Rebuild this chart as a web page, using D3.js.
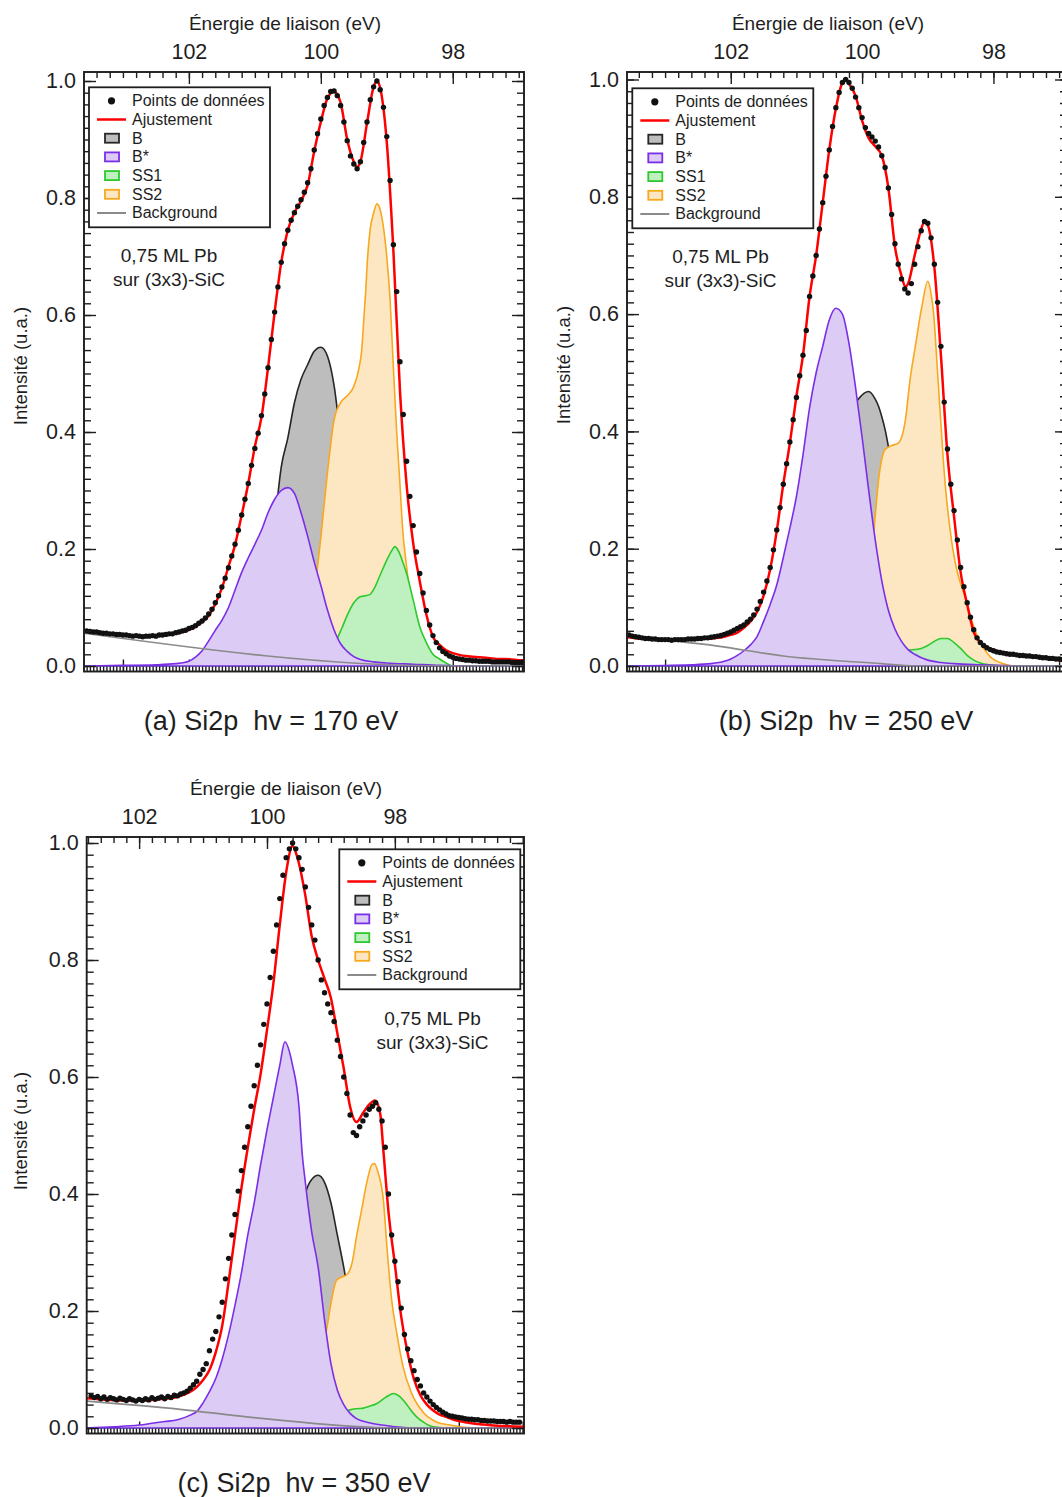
<!DOCTYPE html>
<html><head><meta charset="utf-8">
<script src="https://cdn.jsdelivr.net/npm/d3@7/dist/d3.min.js"></script>
<style>html,body{margin:0;padding:0;background:#fff;}svg{display:block;}</style>
</head><body>
<svg id="fig" width="1062" height="1497"></svg>
<script>
// ---------------- text / ticks ----------------
const xTitle = "Énergie de liaison (eV)";
const yTitle = "Intensité (u.a.)";
const energyTickLabels = [102, 100, 98];
const intensityTicks = [0, 0.2, 0.4, 0.6, 0.8, 1.0];
const legendLabels = ["Points de données", "Ajustement", "B", "B*", "SS1", "SS2", "Background"];
const noteLines = ["0,75 ML Pb", "sur (3x3)-SiC"];
const captions = ["(a) Si2p  hv = 170 eV", "(b) Si2p  hv = 250 eV", "(c) Si2p  hv = 350 eV"];
const dataStep = 0.05;

// ---------------- panel (a) hv = 170 eV ----------------
const aDataStart = 103.55;
const aData = [
.060,.059,.058,.058,.057,.056,.056,.055,.055,.054,
.054,.053,.053,.052,.051,.052,.051,.050,.051,.051,
.052,.051,.053,.053,.054,.055,.055,.057,.058,.060,
.061,.064,.066,.069,.073,.077,.082,.089,.097,.108,
.120,.135,.150,.168,.188,.208,.232,.258,.285,.312,
.343,.372,.398,.428,.465,.510,.558,.605,.648,.690,
.722,.745,.762,.775,.786,.797,.810,.826,.850,.882,
.910,.935,.958,.972,.982,.983,.975,.958,.930,.898,
.872,.858,.850,.862,.895,.930,.968,.990,1.000,.985,
.955,.905,.830,.720,.640,.520,.430,.350,.290,.240,
.195,.158,.125,.095,.070,.052,.040,.031,.025,.021,
.017,.015,.013,.012,.011,.010,.010,.009,.009,.008,
.008,.008,.008,.007,.007,.007,.007,.007,.007,.006,
.006,.006,.006];
const aFit = [[103.59,.058],[103.5,.058],[103.4,.057],[103.3,.056],[103.2,.055],[103.1,.054],[103.0,.053],[102.9,.052],[102.8,.051],[102.7,.051],[102.6,.051],[102.5,.052],[102.4,.053],[102.3,.054],[102.2,.056],[102.1,.058],[102.0,.062],[101.9,.067],[101.8,.075],[101.7,.086],[101.6,.106],[101.5,.133],[101.4,.17],[101.3,.207],[101.2,.258],[101.1,.312],[101.0,.375],[100.9,.425],[100.8,.51],[100.7,.605],[100.6,.69],[100.5,.745],[100.4,.775],[100.3,.795],[100.2,.822],[100.1,.88],[100.0,.93],[99.9,.97],[99.8,.982],[99.7,.963],[99.6,.90],[99.5,.862],[99.45,.853],[99.4,.862],[99.3,.928],[99.2,.99],[99.15,1.0],[99.1,.988],[99.0,.895],[98.9,.71],[98.8,.47],[98.7,.31],[98.6,.21],[98.5,.145],[98.4,.088],[98.3,.05],[98.2,.036],[98.1,.027],[98.0,.022],[97.9,.019],[97.8,.017],[97.7,.016],[97.6,.015],[97.5,.014],[97.4,.013],[97.3,.012],[97.2,.012],[97.1,.011],[97.0,.01],[96.92,.01]];
const aBg = [[103.59,.056],[98.1,0],[96.92,0]];
const aB = [[101.4,0],[101.2,.008],[101.0,.03],[100.9,.06],[100.8,.12],[100.7,.24],[100.6,.34],[100.5,.39],[100.4,.45],[100.3,.49],[100.2,.515],[100.1,.538],[100.0,.545],[99.9,.53],[99.8,.48],[99.7,.39],[99.6,.30],[99.5,.24],[99.4,.17],[99.3,.10],[99.2,.05],[99.1,.02],[99.0,.008],[98.8,0],[96.92,0]];
const aBstar = [[103.59,0],[103.0,.001],[102.5,.002],[102.2,.004],[102.0,.008],[101.9,.015],[101.8,.026],[101.7,.043],[101.6,.061],[101.5,.078],[101.4,.10],[101.3,.13],[101.2,.16],[101.1,.185],[101.0,.208],[100.9,.232],[100.8,.262],[100.7,.285],[100.6,.30],[100.5,.305],[100.4,.295],[100.3,.262],[100.2,.222],[100.1,.178],[100.0,.138],[99.9,.096],[99.8,.062],[99.7,.038],[99.6,.025],[99.5,.016],[99.4,.011],[99.2,.007],[99.0,.005],[98.6,.003],[98.2,.001],[97.8,0],[96.92,0]];
const aSS1 = [[103.59,0],[99.9,0],[99.83,.02],[99.76,.044],[99.68,.065],[99.61,.084],[99.5,.108],[99.41,.118],[99.33,.12],[99.26,.122],[99.18,.135],[99.11,.153],[99.0,.181],[98.92,.198],[98.88,.204],[98.82,.196],[98.75,.175],[98.7,.158],[98.6,.113],[98.5,.067],[98.4,.04],[98.3,.02],[98.2,.012],[98.1,.005],[98.0,0],[96.92,0]];
const aSS2 = [[100.4,0],[100.3,.03],[100.2,.07],[100.1,.125],[100.0,.22],[99.9,.33],[99.8,.42],[99.7,.45],[99.6,.462],[99.5,.478],[99.42,.51],[99.38,.54],[99.35,.59],[99.32,.64],[99.29,.70],[99.25,.748],[99.2,.774],[99.15,.79],[99.1,.78],[99.06,.757],[99.01,.711],[98.95,.626],[98.9,.51],[98.85,.40],[98.8,.31],[98.76,.235],[98.7,.17],[98.6,.095],[98.5,.052],[98.4,.03],[98.3,.018],[98.2,.008],[98.1,.003],[98.0,0],[96.92,0]];

// ---------------- panel (b) hv = 250 eV ----------------
const bDataStart = 103.55;
const bData = [
.053,.051,.050,.049,.048,.047,.047,.046,.046,.045,
.045,.045,.045,.044,.045,.045,.045,.045,.046,.046,
.046,.047,.047,.048,.048,.049,.050,.051,.052,.054,
.056,.058,.061,.064,.067,.070,.075,.080,.087,.097,
.110,.126,.145,.168,.198,.232,.270,.310,.345,.382,
.420,.458,.495,.530,.572,.630,.665,.700,.745,.790,
.835,.880,.920,.952,.978,.995,1.000,.995,.985,.970,
.952,.935,.918,.908,.902,.895,.885,.870,.850,.815,
.770,.720,.685,.660,.643,.636,.652,.685,.715,.742,
.758,.755,.730,.685,.620,.545,.450,.370,.310,.265,
.215,.168,.135,.108,.083,.062,.048,.040,.035,.031,
.028,.026,.024,.023,.022,.021,.020,.020,.019,.018,
.018,.017,.017,.016,.016,.015,.014,.014,.013,.013,
.012,.012,.011];
const bFit = [[103.58,.049],[103.5,.048],[103.4,.047],[103.3,.046],[103.2,.046],[103.1,.045],[103.0,.045],[102.9,.045],[102.8,.045],[102.7,.045],[102.6,.046],[102.5,.046],[102.4,.047],[102.3,.047],[102.2,.048],[102.1,.05],[102.0,.053],[101.9,.057],[101.8,.065],[101.7,.076],[101.6,.092],[101.5,.12],[101.4,.165],[101.3,.23],[101.2,.31],[101.1,.38],[101.0,.46],[100.9,.53],[100.8,.63],[100.7,.70],[100.6,.79],[100.5,.88],[100.4,.95],[100.3,.995],[100.25,1.0],[100.2,.993],[100.1,.972],[100.0,.93],[99.9,.90],[99.8,.886],[99.7,.87],[99.6,.815],[99.5,.715],[99.4,.665],[99.34,.647],[99.3,.652],[99.2,.70],[99.1,.745],[99.05,.758],[99.0,.752],[98.9,.68],[98.8,.53],[98.7,.36],[98.6,.255],[98.5,.16],[98.4,.105],[98.3,.058],[98.2,.04],[98.1,.032],[98.0,.028],[97.9,.024],[97.8,.022],[97.7,.02],[97.6,.019],[97.5,.018],[97.4,.016],[97.3,.015],[97.2,.013],[97.1,.012],[97.0,.01],[96.88,.01]];
const bBg = [[103.58,.05],[102.2,.034],[101.2,.017],[99.7,.004],[99.2,0],[96.88,0]];
const bB = [[101.0,0],[100.8,.04],[100.7,.10],[100.6,.18],[100.5,.25],[100.4,.30],[100.3,.36],[100.2,.41],[100.1,.447],[100.0,.462],[99.9,.468],[99.8,.455],[99.75,.443],[99.7,.425],[99.65,.403],[99.6,.374],[99.5,.30],[99.4,.20],[99.3,.12],[99.2,.07],[99.1,.04],[99.0,.02],[98.8,.005],[98.6,0],[96.88,0]];
const bBstar = [[103.58,0],[102.6,.002],[102.3,.004],[102.1,.008],[102.0,.012],[101.9,.018],[101.8,.026],[101.7,.036],[101.6,.05],[101.5,.076],[101.4,.105],[101.3,.138],[101.2,.185],[101.1,.235],[101.0,.289],[100.9,.36],[100.8,.44],[100.7,.50],[100.6,.545],[100.5,.59],[100.4,.61],[100.3,.60],[100.2,.55],[100.1,.475],[100.0,.39],[99.9,.30],[99.8,.215],[99.7,.145],[99.6,.095],[99.5,.063],[99.4,.042],[99.3,.028],[99.2,.02],[99.0,.01],[98.8,.006],[98.6,.004],[98.2,.002],[97.6,0],[96.88,0]];
const bSS1 = [[103.58,0],[99.8,0],[99.6,.005],[99.5,.012],[99.4,.022],[99.3,.027],[99.2,.028],[99.1,.03],[99.0,.035],[98.9,.042],[98.8,.047],[98.7,.047],[98.6,.04],[98.5,.03],[98.4,.018],[98.3,.01],[98.2,.005],[98.0,.001],[97.8,0],[96.88,0]];
const bSS2 = [[100.4,0],[100.3,.01],[100.2,.025],[100.1,.055],[100.0,.10],[99.9,.165],[99.82,.232],[99.75,.317],[99.65,.369],[99.55,.376],[99.45,.38],[99.34,.42],[99.27,.488],[99.19,.545],[99.09,.613],[99.0,.656],[98.95,.635],[98.91,.60],[98.86,.517],[98.81,.43],[98.74,.317],[98.66,.232],[98.58,.175],[98.5,.14],[98.43,.118],[98.35,.085],[98.28,.061],[98.2,.04],[98.13,.027],[98.05,.016],[97.98,.01],[97.85,.004],[97.7,0],[96.88,0]];

// ---------------- panel (c) hv = 350 eV ----------------
const cDataStart = 102.75;
const cData = [
.055,.052,.054,.050,.053,.049,.052,.050,.048,.051,
.049,.047,.050,.048,.046,.049,.047,.050,.048,.052,
.049,.051,.053,.050,.054,.052,.056,.055,.058,.060,
.063,.068,.074,.080,.092,.100,.110,.132,.152,.165,
.190,.215,.255,.290,.330,.365,.405,.440,.480,.515,
.550,.585,.620,.655,.690,.725,.770,.815,.860,.905,
.945,.975,.990,1.000,.990,.975,.955,.925,.890,.860,
.834,.800,.766,.744,.725,.710,.695,.663,.635,.600,
.572,.535,.505,.500,.515,.525,.535,.545,.550,.556,
.545,.525,.480,.400,.330,.285,.250,.205,.160,.135,
.115,.098,.083,.072,.060,.053,.046,.040,.035,.031,
.027,.024,.021,.020,.019,.018,.017,.016,.015,.015,
.014,.014,.013,.013,.012,.012,.012,.011,.011,.011,
.010,.011,.010,.010,.010];
const cFit = [[102.82,.051],[102.7,.05],[102.6,.049],[102.5,.048],[102.4,.048],[102.3,.047],[102.2,.047],[102.1,.047],[102.0,.047],[101.9,.047],[101.8,.048],[101.7,.049],[101.6,.05],[101.5,.051],[101.4,.053],[101.3,.057],[101.2,.062],[101.1,.07],[101.0,.082],[100.9,.099],[100.8,.13],[100.7,.175],[100.6,.25],[100.5,.33],[100.4,.41],[100.3,.48],[100.2,.545],[100.1,.605],[100.0,.68],[99.9,.76],[99.8,.86],[99.7,.95],[99.6,.995],[99.53,.977],[99.5,.965],[99.4,.91],[99.3,.84],[99.2,.80],[99.1,.768],[99.0,.735],[98.9,.675],[98.8,.615],[98.7,.549],[98.6,.523],[98.5,.538],[98.4,.553],[98.31,.56],[98.23,.538],[98.18,.475],[98.1,.37],[98.0,.28],[97.9,.19],[97.8,.128],[97.7,.083],[97.6,.056],[97.5,.04],[97.4,.03],[97.3,.023],[97.2,.019],[97.1,.015],[97.0,.012],[96.9,.01],[96.8,.008],[96.6,.006],[96.4,.004],[96.2,.003],[95.98,.002]];
const cBg = [[102.82,.046],[101.36,.032],[100.32,.019],[99.28,.008],[98.5,.002],[98.0,0],[95.98,0]];
const cB = [[100.2,0],[99.9,.03],[99.8,.07],[99.7,.14],[99.6,.23],[99.5,.33],[99.4,.40],[99.3,.425],[99.2,.432],[99.1,.42],[99.0,.385],[98.9,.33],[98.8,.275],[98.7,.21],[98.6,.15],[98.5,.10],[98.4,.06],[98.3,.03],[98.2,.015],[98.0,0],[95.98,0]];
const cBstar = [[102.82,0],[102.4,.002],[102.0,.005],[101.8,.008],[101.6,.011],[101.4,.014],[101.2,.022],[101.1,.028],[101.0,.043],[100.9,.062],[100.8,.085],[100.7,.118],[100.6,.16],[100.5,.21],[100.4,.265],[100.3,.33],[100.2,.385],[100.1,.45],[100.0,.51],[99.9,.565],[99.8,.62],[99.72,.66],[99.6,.62],[99.5,.55],[99.45,.47],[99.4,.42],[99.3,.335],[99.2,.275],[99.1,.185],[99.0,.11],[98.9,.065],[98.8,.04],[98.7,.025],[98.6,.016],[98.4,.009],[98.2,.005],[98.0,.002],[97.6,0],[95.98,0]];
const cSS1 = [[102.82,0],[99.2,0],[99.1,.005],[99.0,.01],[98.9,.018],[98.8,.026],[98.7,.031],[98.6,.033],[98.49,.034],[98.4,.037],[98.28,.042],[98.15,.052],[98.02,.059],[97.95,.056],[97.87,.048],[97.8,.038],[97.71,.025],[97.62,.015],[97.55,.01],[97.48,.005],[97.4,.002],[97.2,0],[95.98,0]];
const cSS2 = [[99.6,0],[99.5,.005],[99.4,.02],[99.3,.05],[99.2,.10],[99.1,.15],[99.06,.173],[98.99,.219],[98.91,.253],[98.83,.258],[98.75,.262],[98.67,.282],[98.6,.327],[98.52,.373],[98.44,.419],[98.36,.45],[98.32,.452],[98.26,.436],[98.18,.39],[98.12,.304],[98.05,.219],[97.97,.162],[97.87,.104],[97.74,.06],[97.55,.026],[97.34,.01],[97.13,.005],[96.9,.001],[96.7,0],[95.98,0]];

// ---------------- layout & styles ----------------
const FONT = "'Liberation Sans', Arial, Helvetica, sans-serif";
const INK = "#1e1e1e";
const layout = [
  {id:"a", x0:84,   x1:524,  yTop:72,  yBot:671.5,  v0:666,  v1:81,   dom:[103.59,96.92], legend:[89,87.3],    note:[169,255],   cap:[271,729.5],  title:[285,29.5],  ylab:[27,366]},
  {id:"b", x0:627,  x1:1067, yTop:72,  yBot:671.5,  v0:666,  v1:79.5, dom:[103.58,96.88], legend:[632.3,88.3], note:[720.5,256], cap:[846,729.5],  title:[828,29.5],  ylab:[570,365]},
  {id:"c", x0:86.7, x1:524,  yTop:837, yBot:1433.5, v0:1428, v1:843,  dom:[102.82,95.98], legend:[339.3,849.3],note:[432.5,1018],cap:[304,1491.5], title:[286,794.5], ylab:[27,1131]}
];
const panelSeries = [
  {data:aData, start:aDataStart, fit:aFit, bg:aBg, B:aB, Bstar:aBstar, SS1:aSS1, SS2:aSS2},
  {data:bData, start:bDataStart, fit:bFit, bg:bBg, B:bB, Bstar:bBstar, SS1:bSS1, SS2:bSS2},
  {data:cData, start:cDataStart, fit:cFit, bg:cBg, B:cB, Bstar:cBstar, SS1:cSS1, SS2:cSS2}
];
const compStyle = {
  B:     {fill:"#bdbdbd", stroke:"#262626"},
  Bstar: {fill:"#dccbf4", stroke:"#7b2ee8"},
  SS1:   {fill:"#bff0bf", stroke:"#2dc92d"},
  SS2:   {fill:"#fde7c2", stroke:"#f7a81f"}
};
const drawOrder = ["B", "SS2", "SS1", "Bstar"];
const legendKinds = ["dot", "fit", "B", "Bstar", "SS1", "SS2", "bg"];
const FIT = "#ff0000", BG = "#8a8a8a", DOT = "#111";

const svg = d3.select("#fig");

function tickStyle(sel){
  sel.select(".domain").remove();
  sel.selectAll("line").attr("stroke", INK).attr("stroke-width", 1.4);
}
function labelStyle(sel, size){
  sel.select(".domain").remove();
  sel.attr("font-family", FONT).attr("font-size", size);
  sel.selectAll("text").attr("fill", INK);
}

layout.forEach((L, i) => {
  const S = panelSeries[i];
  const x = d3.scaleLinear().domain(L.dom).range([L.x0, L.x1]);
  const y = d3.scaleLinear().domain([0, 1]).range([L.v0, L.v1]);
  const lo = d3.min(L.dom), hi = d3.max(L.dom);
  const g = svg.append("g");
  const clipId = "clip-" + L.id;
  g.append("clipPath").attr("id", clipId).append("rect")
    .attr("x", L.x0).attr("y", L.yTop).attr("width", L.x1 - L.x0).attr("height", L.yBot - L.yTop);

  // bottom integer ticks (beneath fills)
  const ints = d3.range(Math.ceil(lo), Math.floor(hi) + 1);
  g.append("g").attr("transform", `translate(0,${L.yBot})`)
    .call(d3.axisTop(x).tickValues(ints).tickSize(12).tickFormat("")).call(tickStyle);

  // components
  const plot = g.append("g").attr("clip-path", `url(#${clipId})`);
  const area = d3.area().x(d => x(d[0])).y0(y(0)).y1(d => y(d[1])).curve(d3.curveMonotoneX);
  const line = d3.line().x(d => x(d[0])).y(d => y(d[1])).curve(d3.curveMonotoneX);
  drawOrder.forEach(k => {
    plot.append("path").datum(S[k]).attr("d", area)
      .attr("fill", compStyle[k].fill).attr("stroke", compStyle[k].stroke)
      .attr("stroke-width", 1.6).attr("stroke-linejoin", "round");
  });
  plot.append("path").datum(S.bg).attr("d", line).attr("fill", "none").attr("stroke", BG).attr("stroke-width", 1.7);
  plot.append("path").datum(S.fit).attr("d", line).attr("fill", "none").attr("stroke", FIT).attr("stroke-width", 2.5).attr("stroke-linejoin", "round");
  const pts = S.data.map((v, k) => [S.start - k * dataStep, v]);
  plot.append("g").selectAll("circle").data(pts).join("circle")
    .attr("cx", d => x(d[0])).attr("cy", d => y(d[1])).attr("r", 2.7).attr("fill", DOT);

  // dense bottom ticks
  const dense = d3.range(Math.ceil(lo / dataStep), Math.floor(hi / dataStep) + 1).map(k => +(k * dataStep).toFixed(2));
  g.append("g").attr("transform", `translate(0,${L.yBot})`)
    .call(d3.axisTop(x).tickValues(dense).tickSize(5).tickFormat("")).call(tickStyle);

  // top axis
  const minorTop = d3.range(Math.ceil(lo * 5), Math.floor(hi * 5) + 1).map(k => k / 5);
  g.append("g").attr("transform", `translate(0,${L.yTop})`)
    .call(d3.axisBottom(x).tickValues(minorTop).tickSize(6).tickFormat("")).call(tickStyle);
  g.append("g").attr("transform", `translate(0,${L.yTop})`)
    .call(d3.axisBottom(x).tickValues(energyTickLabels).tickSize(12).tickFormat("")).call(tickStyle);
  g.append("g").attr("transform", `translate(0,${L.yTop})`)
    .call(d3.axisTop(x).tickValues(energyTickLabels).tickSize(0).tickPadding(13).tickFormat(d3.format("d")))
    .call(s => labelStyle(s, 21.5));

  // left / right axes
  const minorY = d3.range(0, 51).map(k => k / 50);
  g.append("g").attr("transform", `translate(${L.x0},0)`)
    .call(d3.axisRight(y).tickValues(minorY).tickSize(7).tickFormat("")).call(tickStyle);
  g.append("g").attr("transform", `translate(${L.x0},0)`)
    .call(d3.axisRight(y).tickValues(intensityTicks).tickSize(12).tickFormat("")).call(tickStyle);
  g.append("g").attr("transform", `translate(${L.x0},0)`)
    .call(d3.axisLeft(y).tickValues(intensityTicks).tickSize(0).tickPadding(8).tickFormat(d3.format(".1f")))
    .call(s => labelStyle(s, 21.5));
  g.append("g").attr("transform", `translate(${L.x1},0)`)
    .call(d3.axisLeft(y).tickValues(minorY).tickSize(7).tickFormat("")).call(tickStyle);
  g.append("g").attr("transform", `translate(${L.x1},0)`)
    .call(d3.axisLeft(y).tickValues(intensityTicks).tickSize(12).tickFormat("")).call(tickStyle);

  // frame
  g.append("rect").attr("x", L.x0).attr("y", L.yTop).attr("width", L.x1 - L.x0).attr("height", L.yBot - L.yTop)
    .attr("fill", "none").attr("stroke", INK).attr("stroke-width", 1.9);

  // titles
  g.append("text").attr("x", L.title[0]).attr("y", L.title[1]).attr("text-anchor", "middle")
    .attr("font-family", FONT).attr("font-size", 19).attr("fill", INK).text(xTitle);
  g.append("text").attr("transform", `translate(${L.ylab[0]},${L.ylab[1]}) rotate(-90)`).attr("text-anchor", "middle")
    .attr("font-family", FONT).attr("font-size", 18.5).attr("fill", INK).text(yTitle);

  // note
  noteLines.forEach((t, k) => {
    g.append("text").attr("x", L.note[0]).attr("y", L.note[1] + 7 + k * 24).attr("text-anchor", "middle")
      .attr("font-family", FONT).attr("font-size", 19).attr("fill", INK).text(t);
  });

  // caption
  g.append("text").attr("x", L.cap[0]).attr("y", L.cap[1]).attr("text-anchor", "middle")
    .style("white-space", "pre").attr("font-family", FONT).attr("font-size", 27).attr("fill", INK).text(captions[i]);

  // legend
  const lg = g.append("g").attr("transform", `translate(${L.legend[0]},${L.legend[1]})`);
  lg.append("rect").attr("width", 181).attr("height", 140).attr("fill", "#fff").attr("stroke", INK).attr("stroke-width", 1.8);
  legendLabels.forEach((t, k) => {
    const ry = 13.5 + k * 18.7;
    const kind = legendKinds[k];
    if (kind === "dot") {
      lg.append("circle").attr("cx", 22.5).attr("cy", ry).attr("r", 3.6).attr("fill", DOT);
    } else if (kind === "fit" || kind === "bg") {
      lg.append("line").attr("x1", 8).attr("x2", 37).attr("y1", ry).attr("y2", ry)
        .attr("stroke", kind === "fit" ? FIT : BG).attr("stroke-width", kind === "fit" ? 2.5 : 2);
    } else {
      lg.append("rect").attr("x", 16).attr("y", ry - 4.5).attr("width", 14).attr("height", 9)
        .attr("fill", compStyle[kind].fill).attr("stroke", compStyle[kind].stroke).attr("stroke-width", 1.8);
    }
    lg.append("text").attr("x", 43).attr("y", ry + 5.5).attr("font-family", FONT).attr("font-size", 16)
      .attr("fill", INK).text(t);
  });
});
</script>
</body></html>
